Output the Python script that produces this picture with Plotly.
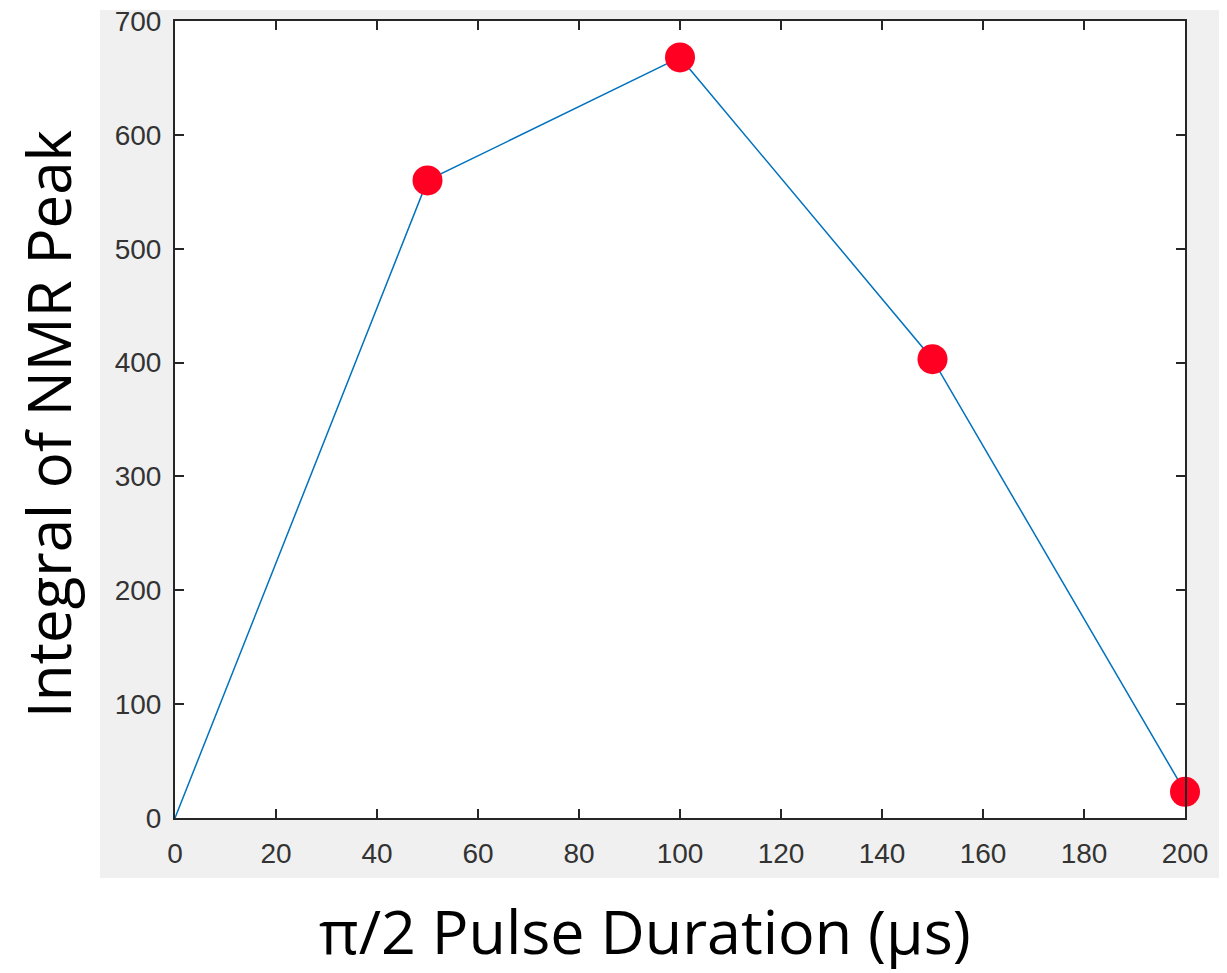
import plotly.graph_objects as go

x_vals = [0, 50, 100, 150, 200]
y_vals = [0, 560, 668, 403, 23]
marker_x = [50, 100, 150, 200]
marker_y = [560, 668, 403, 23]
x_ticks = [0, 20, 40, 60, 80, 100, 120, 140, 160, 180, 200]
y_ticks = [0, 100, 200, 300, 400, 500, 600, 700]

OFF = 8  # default page body margin
W, H = 1227 - OFF, 973 - OFF
L, R, T, B = 175 - OFF, 1185 - OFF, 21 - OFF, 818 - OFF
pw, ph = R - L, B - T

def px(xp):
    return (xp - OFF - L) / pw

def py(yp):
    return (B - (yp - OFF)) / ph

fig = go.Figure()
fig.add_trace(go.Scatter(x=x_vals, y=y_vals, mode="lines",
                         line=dict(color="#0072BD", width=1.5),
                         hoverinfo="skip", cliponaxis=False))
fig.add_trace(go.Scatter(x=marker_x, y=marker_y, mode="markers",
                         marker=dict(color="#FF0022", size=30, line=dict(width=0)),
                         cliponaxis=False))

axis_common = dict(showgrid=False, zeroline=False, showline=True, linecolor="#262626",
                   linewidth=2, mirror="ticks", ticks="inside", ticklen=9, tickwidth=1.5,
                   tickcolor="#262626", ticklabeloverflow="allow", automargin=False,
                   tickfont=dict(family="Liberation Sans, Arial", size=28, color="#333333"))

fig.update_xaxes(range=[0, 200], tickvals=x_ticks, ticktext=[str(v) for v in x_ticks],
                 ticklabelstandoff=9, **axis_common)
fig.update_yaxes(range=[0, 700], tickvals=y_ticks, ticktext=[str(v) for v in y_ticks],
                 ticklabelstandoff=6, **axis_common)

fig.update_layout(
    width=W, height=H,
    margin=dict(l=L, r=W - R, t=T, b=H - B, autoexpand=False),
    paper_bgcolor="white", plot_bgcolor="white",
    showlegend=False,
    shapes=[
        dict(type="rect", xref="paper", yref="paper", x0=px(100), x1=px(1240),
             y0=py(878), y1=py(10), fillcolor="#F0F0F0", line=dict(width=0), layer="below"),
        dict(type="rect", xref="paper", yref="paper", x0=0, x1=1, y0=0, y1=1,
             fillcolor="white", line=dict(width=0), layer="below"),
    ],
    annotations=[
        dict(text="π/2 Pulse Duration (μs)", xref="paper", yref="paper",
             x=px(645), y=py(930), xanchor="center", yanchor="middle", showarrow=False,
             font=dict(family="Open Sans", size=61, color="black")),
        dict(text="Integral of NMR Peak", xref="paper", yref="paper",
             x=px(48), y=py(424), xanchor="center", yanchor="middle", showarrow=False,
             textangle=-90, font=dict(family="Open Sans", size=60, color="black")),
    ],
)

fig.write_html("out.html")
